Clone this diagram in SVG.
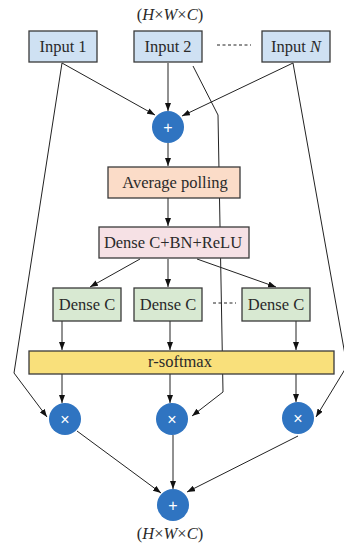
<svg xmlns="http://www.w3.org/2000/svg" width="344" height="545" viewBox="0 0 344 545">
  <defs>
    <marker id="arrow" viewBox="0 0 8 6" refX="8" refY="3" markerWidth="8" markerHeight="6" markerUnits="userSpaceOnUse" orient="auto">
      <path d="M0,0 L8,3 L0,6 Z" fill="#111"/>
    </marker>
    <style>
      .box { stroke: #3a3a3a; stroke-width: 1.3; }
      .in { fill: #cfe1f3; }
      .avg { fill: #fbdcc8; }
      .bn { fill: #f6e1e5; }
      .dc { fill: #d8e9d2; }
      .sm { fill: #f9e07b; }
      .op { fill: #2f74c1; }
      .lbl { font-family: "Liberation Serif", "Times New Roman", serif; font-size: 16.5px; fill: #2a2a2a; text-anchor: middle; }
      .sym { font-family: "Liberation Sans", Arial, sans-serif; font-size: 16px; fill: #ffffff; text-anchor: middle; }
      .edge { fill: none; stroke: #222; stroke-width: 1; }
      .arr { marker-end: url(#arrow); }
      .dash { stroke: #222; stroke-width: 1; stroke-dasharray: 3 2.5; }
    </style>
  </defs>

  <rect width="344" height="545" fill="#ffffff"/>

  <!-- shape labels -->
  <text class="lbl" x="170" y="20">(<tspan font-style="italic">H</tspan>×<tspan font-style="italic">W</tspan>×<tspan font-style="italic">C</tspan>)</text>
  <text class="lbl" x="170" y="539">(<tspan font-style="italic">H</tspan>×<tspan font-style="italic">W</tspan>×<tspan font-style="italic">C</tspan>)</text>

  <!-- connectors -->
  <g id="connectors">
    <!-- inputs to first sum -->
    <line class="edge arr" x1="62" y1="63" x2="155" y2="115"/>
    <line class="edge arr" x1="168" y1="63" x2="168" y2="111"/>
    <line class="edge arr" x1="293" y1="63" x2="182" y2="116"/>
    <!-- main chain -->
    <line class="edge arr" x1="168" y1="143" x2="168" y2="166"/>
    <line class="edge arr" x1="168" y1="198" x2="168" y2="226"/>
    <line class="edge arr" x1="140" y1="259" x2="90" y2="287"/>
    <line class="edge arr" x1="168" y1="259" x2="168" y2="287"/>
    <line class="edge arr" x1="197" y1="259" x2="276" y2="287"/>
    <line class="edge arr" x1="62" y1="321" x2="62" y2="350"/>
    <line class="edge arr" x1="170" y1="321" x2="170" y2="350"/>
    <line class="edge arr" x1="296" y1="321" x2="296" y2="350"/>
    <line class="edge arr" x1="62" y1="374" x2="62" y2="403"/>
    <line class="edge arr" x1="170" y1="374" x2="170" y2="403"/>
    <line class="edge arr" x1="296" y1="374" x2="296" y2="402"/>
    <!-- skip paths from inputs to products -->
    <polyline class="edge arr" points="62,63 14,373 47,417"/>
    <polyline class="edge arr" points="193,66 218,115 223,392 192,416"/>
    <polyline class="edge arr" points="293,63 347,366 316,417"/>
    <!-- products to final sum -->
    <line class="edge arr" x1="77" y1="431" x2="161" y2="493"/>
    <line class="edge arr" x1="173" y1="435" x2="173" y2="489"/>
    <line class="edge arr" x1="298" y1="436" x2="187" y2="492"/>
    <!-- ellipsis dashes -->
    <line class="dash" x1="217" y1="45" x2="251" y2="45"/>
    <line class="dash" x1="213" y1="303" x2="236" y2="303"/>
  </g>

  <!-- nodes -->
  <g id="input1">
    <rect class="box in" x="29" y="31" width="68" height="31"/>
    <text class="lbl" x="63" y="52">Input 1</text>
  </g>
  <g id="input2">
    <rect class="box in" x="134" y="31" width="68" height="31"/>
    <text class="lbl" x="168" y="52">Input 2</text>
  </g>
  <g id="inputN">
    <rect class="box in" x="262" y="31" width="68" height="31"/>
    <text class="lbl" x="296" y="52">Input <tspan font-style="italic">N</tspan></text>
  </g>
  <g id="sum1">
    <circle class="op" cx="168" cy="127" r="16"/>
    <text class="sym" x="168" y="133">+</text>
  </g>
  <g id="avgpool">
    <rect class="box avg" x="108" y="167" width="132" height="31"/>
    <text class="lbl" x="175" y="188">Average polling</text>
  </g>
  <g id="denseBN">
    <rect class="box bn" x="99" y="227" width="150" height="31"/>
    <text class="lbl" x="173" y="248">Dense C+BN+ReLU</text>
  </g>
  <g id="dense1">
    <rect class="box dc" x="53" y="288" width="68" height="33"/>
    <text class="lbl" x="87" y="310">Dense C</text>
  </g>
  <g id="dense2">
    <rect class="box dc" x="134" y="288" width="68" height="33"/>
    <text class="lbl" x="168" y="310">Dense C</text>
  </g>
  <g id="dense3">
    <rect class="box dc" x="242" y="288" width="68" height="33"/>
    <text class="lbl" x="276" y="310">Dense C</text>
  </g>
  <g id="rsoftmax">
    <rect class="box sm" x="29" y="351" width="305" height="23"/>
    <text class="lbl" x="180" y="367">r-softmax</text>
  </g>
  <g id="mul1">
    <circle class="op" cx="65" cy="419" r="16"/>
    <text class="sym" x="65" y="425">×</text>
  </g>
  <g id="mul2">
    <circle class="op" cx="172" cy="419" r="16"/>
    <text class="sym" x="172" y="425">×</text>
  </g>
  <g id="mul3">
    <circle class="op" cx="298" cy="418" r="16"/>
    <text class="sym" x="298" y="424">×</text>
  </g>
  <g id="sum2">
    <circle class="op" cx="173" cy="505" r="16"/>
    <text class="sym" x="173" y="511">+</text>
  </g>
</svg>
